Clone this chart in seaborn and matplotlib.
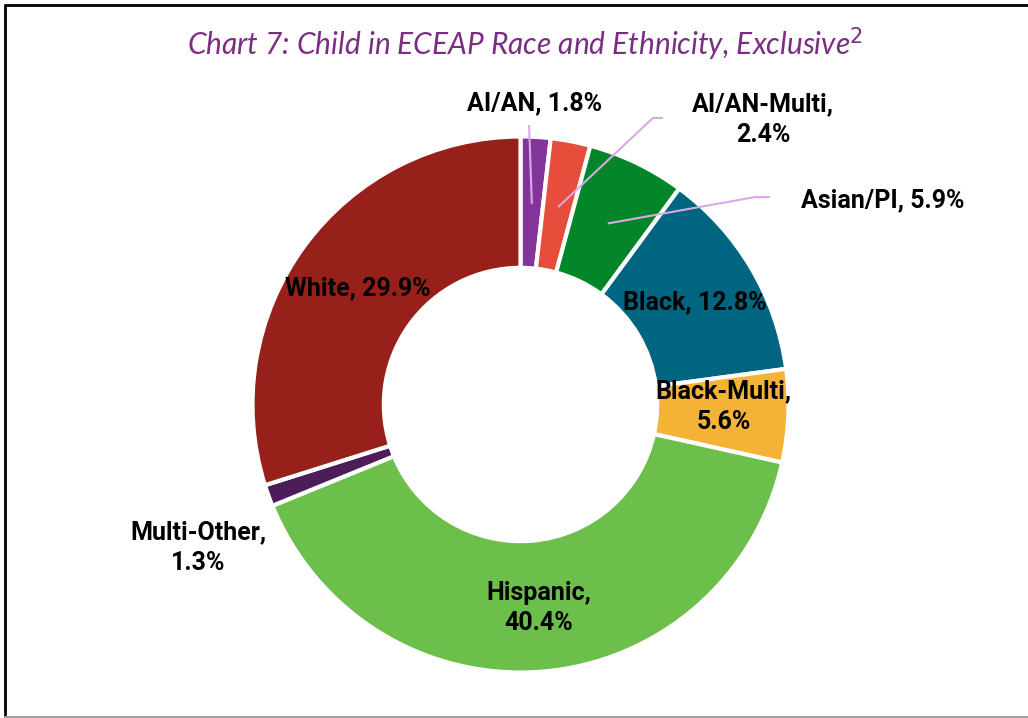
import matplotlib
matplotlib.use("Agg")
import matplotlib.pyplot as plt
from matplotlib.lines import Line2D
import numpy as np
import seaborn as sns

# Enrollment shares by race/ethnicity (percent), clockwise from 12 o'clock
categories = ["AI/AN", "AI/AN-Multi", "Asian/PI", "Black", "Black-Multi",
              "Hispanic", "Multi-Other", "White"]
shares = [1.8, 2.4, 5.9, 12.8, 5.6, 40.4, 1.3, 29.9]
label_texts = ["AI/AN, 1.8%", "AI/AN-Multi,\n2.4%", "Asian/PI, 5.9%",
               "Black, 12.8%", "Black-Multi,\n5.6%", "Hispanic,\n40.4%",
               "Multi-Other,\n1.3%", "White, 29.9%"]
colors = ["#83349A", "#E84C3A", "#03862A", "#006580", "#F4B337",
          "#6BBF4A", "#4D1D5A", "#97211A"]

sns.set_theme(style="white")
plt.rcParams["font.family"] = ["Roboto", "DejaVu Sans"]

W, H = 1028, 718
fig = plt.figure(figsize=(W / 100, H / 100), dpi=100)
cx, cy, R = 520.5, 404.5, 268.0
ax = fig.add_axes([0, 0, 1, 1])

wedges, _ = ax.pie(
    shares, colors=sns.color_palette(colors), startangle=90, counterclock=False,
    radius=1.0, wedgeprops=dict(width=0.49, edgecolor="white", linewidth=3),
)
ax.set_xlim(-cx / R, (W - cx) / R)
ax.set_ylim(-(H - cy) / R, cy / R)
ax.set_aspect("auto")
ax.axis("off")

# label anchor positions (in pie radius units)
label_pos = [(0.054, 1.125), (0.905, 1.062), (1.353, 0.763), (0.651, 0.382),
             (0.759, -0.009), (0.069, -0.759), (-1.203, -0.535), (-0.606, 0.435)]
for txt, (x, y) in zip(label_texts, label_pos):
    ax.text(x, y, txt, ha="center", va="center", fontsize=18,
            fontweight="bold", color="black", linespacing=1.35)

# leader lines for the narrow top wedges
lead_color = "#D9A9E6"
elbows = {0: [(0.032, 1.043)],
          1: [(0.532, 1.069), (0.494, 1.069)],
          2: [(0.931, 0.774), (0.875, 0.774)]}
angles = 90 - 3.6 * (np.cumsum(shares) - np.array(shares) / 2)
for i, pts in elbows.items():
    a = np.deg2rad(angles[i])
    end = (0.75 * np.cos(a), 0.75 * np.sin(a))
    xs = [p[0] for p in pts] + [end[0]]
    ys = [p[1] for p in pts] + [end[1]]
    ax.plot(xs, ys, color=lead_color, lw=1.5, solid_capstyle="butt")

fig.text(525 / W, 1 - 44 / H,
         "Chart 7: Child in ECEAP Race and Ethnicity, Exclusive$^{2}$",
         family=["Lato", "DejaVu Sans"],
         ha="center", va="center", fontsize=21.5, style="italic",
         color="#7A2E82")

# outer frame
fig.add_artist(Line2D([5 / W, 1], [1 - 5 / H, 1 - 5 / H], color="black",
                      lw=2, transform=fig.transFigure))
fig.add_artist(Line2D([5 / W, 5 / W], [1 - 5 / H, 0], color="black",
                      lw=2, transform=fig.transFigure))
fig.add_artist(Line2D([5 / W, 1], [1.5 / H, 1.5 / H], color="#A0A0A0",
                      lw=1.5, transform=fig.transFigure))

fig.savefig("out.png", dpi=100, facecolor="white")
